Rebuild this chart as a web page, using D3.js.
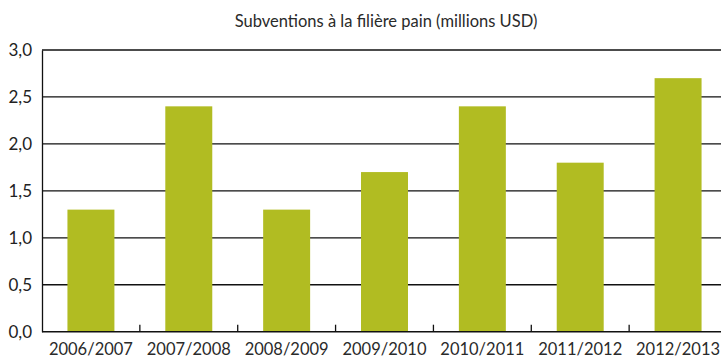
<!DOCTYPE html>
<html>
<head>
<meta charset="utf-8">
<script src="https://cdn.jsdelivr.net/npm/d3@7"></script>
<style>
  html, body { margin: 0; padding: 0; background: #fff; }
  svg { display: block; }
  text { font-family: Lato, "Open Sans", sans-serif; fill: #222; }
</style>
</head>
<body>
<svg id="chart" width="721" height="359"></svg>
<script>
// Bread-sector subsidies per campaign year (millions USD)
const campaigns = ["2006/2007", "2007/2008", "2008/2009", "2009/2010", "2010/2011", "2011/2012", "2012/2013"];
const subsidies = [1.3, 2.4, 1.3, 1.7, 2.4, 1.8, 2.7];
const yTicks = [0, 0.5, 1.0, 1.5, 2.0, 2.5, 3.0];
const chartTitle = "Subventions à la filière pain (millions USD)";

const svg = d3.select("#chart");
const margin = { left: 42, right: -6, top: 50, bottom: 27 };
const W = 721, H = 359;

const x = d3.scaleBand()
  .domain(campaigns)
  .range([margin.left, W - margin.right])
  .paddingInner(0.52)
  .paddingOuter(0.26);

const y = d3.scaleLinear()
  .domain([0, 3])
  .range([H - margin.bottom - 0.3, margin.top]);

const fmt = v => d3.format(".1f")(v).replace(".", ",");

// horizontal gridlines
svg.append("g")
  .selectAll("line")
  .data(yTicks.filter(d => d > 0))
  .join("line")
  .attr("x1", margin.left).attr("x2", W)
  .attr("y1", d => y(d)).attr("y2", d => y(d))
  .attr("stroke", "#111").attr("stroke-width", 1.3);

// bars
svg.append("g")
  .selectAll("rect")
  .data(campaigns.map((c, i) => ({ c, v: subsidies[i] })))
  .join("rect")
  .attr("x", d => x(d.c))
  .attr("width", x.bandwidth())
  .attr("y", d => y(d.v))
  .attr("height", d => y(0) - y(d.v))
  .attr("fill", "#b1bc22");

// y axis
const yAxis = d3.axisLeft(y).tickValues(yTicks).tickFormat(fmt).tickSize(0).tickPadding(10);
const gy = svg.append("g").attr("transform", `translate(${margin.left},0)`).call(yAxis);
gy.select(".domain").attr("stroke", "#111").attr("stroke-width", 1.3);
gy.selectAll("text").attr("font-size", 17).attr("fill", "#2a2a2a")
  .attr("font-family", "Lato, sans-serif");

// x axis baseline and separators between campaigns
const step = x.step();
const bounds = d3.range(1, campaigns.length).map(i => x(campaigns[i]) - (step - x.bandwidth()) / 2);
svg.append("line")
  .attr("x1", margin.left).attr("x2", W)
  .attr("y1", y(0)).attr("y2", y(0))
  .attr("stroke", "#111").attr("stroke-width", 1.5);
svg.append("g")
  .selectAll("line")
  .data(bounds)
  .join("line")
  .attr("x1", d => d).attr("x2", d => d)
  .attr("y1", y(0)).attr("y2", y(0) - 7)
  .attr("stroke", "#111").attr("stroke-width", 1.3);

// category labels
svg.append("g")
  .selectAll("text")
  .data(campaigns)
  .join("text")
  .attr("x", d => x(d) + x.bandwidth() / 2)
  .attr("y", 355)
  .attr("text-anchor", "middle")
  .attr("font-size", 16.5)
  .style("fill", "#2a2a2a")
  .text(d => d);

// title
svg.append("text")
  .attr("x", 386)
  .attr("y", 27)
  .attr("text-anchor", "middle")
  .attr("font-size", 16.5)
  .style("fill", "#2a2a2a")
  .text(chartTitle);
</script>
</body>
</html>
